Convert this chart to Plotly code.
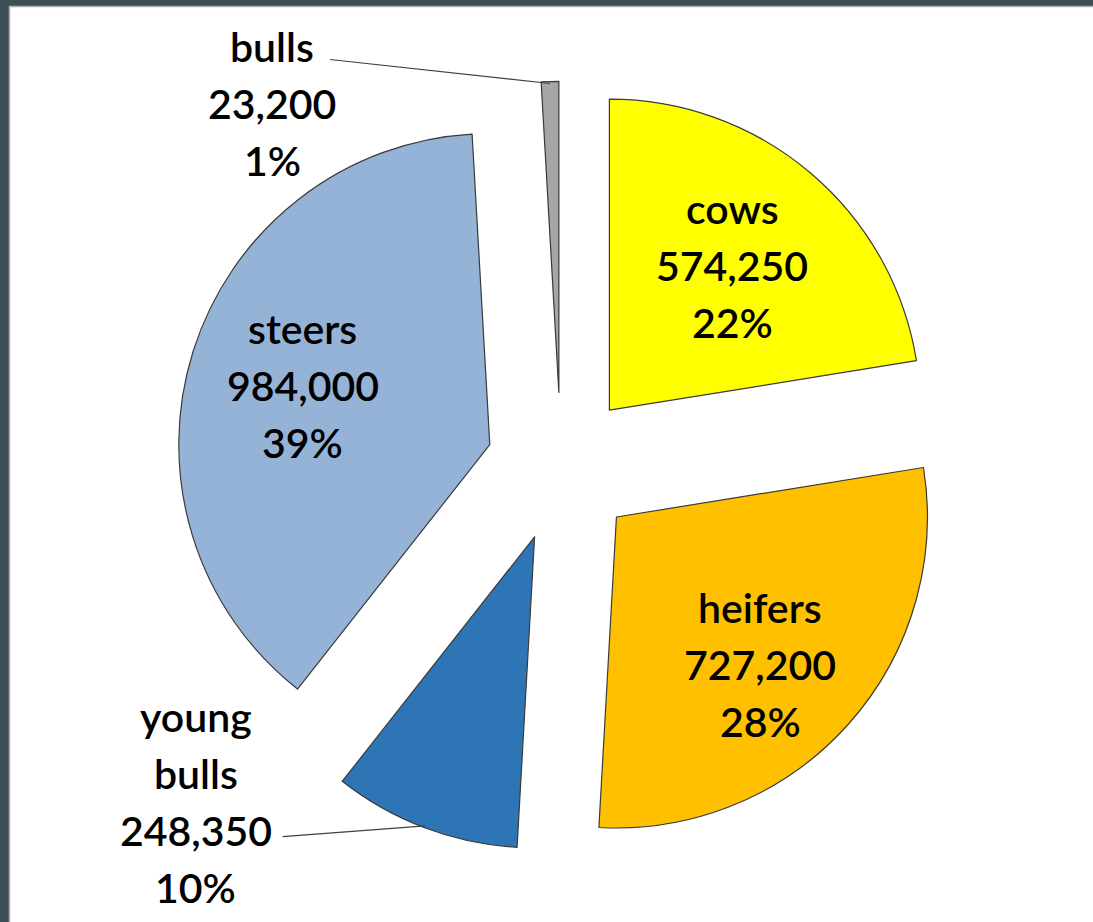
import math
import plotly.graph_objects as go

# Cattle numbers by category
categories = ["cows", "heifers", "young bulls", "steers", "bulls"]
head_counts = [574250, 727200, 248350, 984000, 23200]
count_labels = ["574,250", "727,200", "248,350", "984,000", "23,200"]
percent_labels = ["22%", "28%", "10%", "39%", "1%"]
label_names = [["cows"], ["heifers"], ["young", "bulls"], ["steers"], ["bulls"]]

slice_colors = ["#FFFF00", "#FFC000", "#2E75B6", "#95B3D7", "#A6A6A6"]

# Page and pie geometry (pixels)
W, H = 1093, 922
CX, CY = 561, 467
R = 311
PULL = 0.24
LINE_GAP = 57
FONT = dict(family="Lato, 'Open Sans', sans-serif", size=41, color="#000000", weight=600)

box = 2 * R * (1 + PULL)
dom_x = [(CX - box / 2) / W, (CX + box / 2) / W]
dom_y = [(H - CY - box / 2) / H, (H - CY + box / 2) / H]

fig = go.Figure(
    go.Pie(
        labels=categories,
        values=head_counts,
        sort=False,
        direction="clockwise",
        rotation=0,
        pull=[PULL] * len(categories),
        marker=dict(colors=slice_colors, line=dict(color="#3a3a3a", width=1.2)),
        textinfo="none",
        hoverinfo="label+value+percent",
        showlegend=False,
        domain=dict(x=dom_x, y=dom_y),
    )
)


def px_to_paper(x, y):
    return x / W, 1 - y / H


# slice geometry derived from the values
total = sum(head_counts)
cum = 0.0
geom = []
for v in head_counts:
    a0 = cum / total * 360
    cum += v
    a1 = cum / total * 360
    mid = math.radians((a0 + a1) / 2)
    d = (math.sin(mid), -math.cos(mid))
    apex = (CX + PULL * R * d[0], CY + PULL * R * d[1])
    geom.append((apex, d))

annotations = []
shapes = []


def add_label(lines, x_px, y_px):
    n = len(lines)
    xp, yp = px_to_paper(x_px, y_px)
    for j, t in enumerate(lines):
        annotations.append(
            dict(
                x=xp, y=yp, xref="paper", yref="paper",
                text=t, showarrow=False, font=FONT,
                xanchor="center", yanchor="middle",
                yshift=((n - 1) / 2 - j) * LINE_GAP,
            )
        )


# inside labels for the large slices:
# (distance from apex as a share of the radius, extra x/y nudge in px)
inside_pos = {0: (0.61, (0, 0)), 1: (0.71, (-20, 0)), 3: (0.63, (0, 0))}
# outside labels with leader lines for the small slices:
# (text centre offset, leader end offset) from the arc point, px
outside = {
    2: ((-229, -26), (-142, 9)),
    4: ((-278, 22), (-220, -22)),
}
for i, (apex, d) in enumerate(geom):
    lines = label_names[i] + [count_labels[i], percent_labels[i]]
    if i in outside:
        arc = (apex[0] + R * d[0], apex[1] + R * d[1])
        (tdx, tdy), (ldx, ldy) = outside[i]
        add_label(lines, arc[0] + tdx, arc[1] + tdy)
        x0, y0 = px_to_paper(arc[0] - 2 * d[0], arc[1] - 2 * d[1])
        x1, y1 = px_to_paper(arc[0] + ldx, arc[1] + ldy)
        shapes.append(
            dict(type="line", xref="paper", yref="paper", x0=x0, y0=y0, x1=x1, y1=y1,
                 line=dict(color="#404040", width=1.2))
        )
    else:
        k, (nx, ny) = inside_pos[i]
        add_label(lines, apex[0] + k * R * d[0] + nx, apex[1] + k * R * d[1] + ny)

# dark frame along the top and left edges
FRAME = "#3e4f57"
shapes += [
    dict(type="rect", xref="paper", yref="paper", x0=0, x1=1, y0=1 - 6 / H, y1=1,
         fillcolor=FRAME, line=dict(width=0), layer="above"),
    dict(type="rect", xref="paper", yref="paper", x0=0, x1=9 / W, y0=0, y1=1,
         fillcolor=FRAME, line=dict(width=0), layer="above"),
    dict(type="line", xref="paper", yref="paper", x0=9.5 / W, x1=1, y0=1 - 6.5 / H, y1=1 - 6.5 / H,
         line=dict(color="#b0b0b0", width=1.5), layer="above"),
    dict(type="line", xref="paper", yref="paper", x0=9.5 / W, x1=9.5 / W, y0=0, y1=1 - 6.5 / H,
         line=dict(color="#b0b0b0", width=1.5), layer="above"),
]

fig.update_layout(
    width=W,
    height=H,
    margin=dict(l=0, r=0, t=0, b=0),
    paper_bgcolor="#FFFFFF",
    plot_bgcolor="#FFFFFF",
    annotations=annotations,
    shapes=shapes,
)

fig.write_html("out.html")
